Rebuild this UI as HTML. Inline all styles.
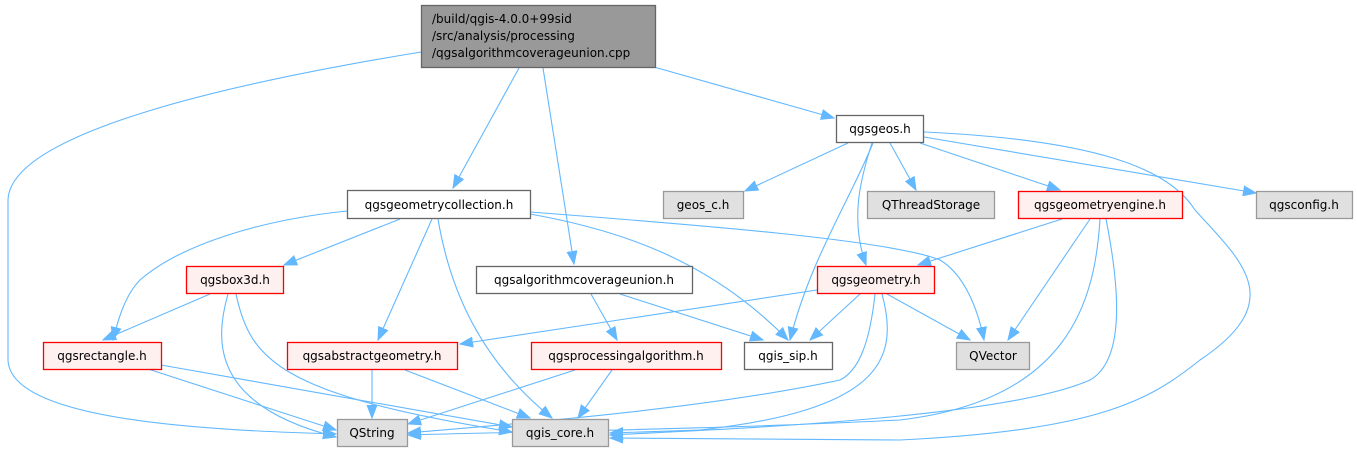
<!DOCTYPE html>
<html><head><meta charset="utf-8"><style>
html,body{margin:0;padding:0;background:#fff;}
svg{display:block;}
text{font-family:"DejaVu Sans","Liberation Sans",sans-serif;font-size:12px;fill:#000;}
</style></head><body>
<svg width="1357" height="451" viewBox="0 0 1357 451" xmlns="http://www.w3.org/2000/svg">
<defs>
<marker id="a" markerUnits="userSpaceOnUse" markerWidth="14" markerHeight="14" viewBox="0 0 14 14" refX="13" refY="7" orient="auto">
<path d="M0,2 L13,7 L0,12 Z" fill="#63b8ff" stroke="#63b8ff"/>
</marker>
</defs>
<g fill="none" stroke="#63b8ff" stroke-width="1.1" marker-end="url(#a)">
<path d="M421,52 C250,80 10,130 8,200 L8,360 C10,420 200,430 336,434"/>
<path d="M519,68 L453,188"/>
<path d="M543,68 L574,264"/>
<path d="M654,67 L834,118"/>
<path d="M347,211 C260,220 180,245 140,280 C125,295 118,320 113,340"/>
<path d="M400,219 L284,265"/>
<path d="M432,219 L378,340"/>
<path d="M438,219 C450,290 480,360 552,418"/>
<path d="M530,214 C620,230 710,260 788,340"/>
<path d="M530,212 C700,225 890,240 940,260 C965,275 978,310 984,340"/>
<path d="M591,294 L617,340"/>
<path d="M620,294 L763,340"/>
<path d="M210,294 L103,340"/>
<path d="M228,294 C215,340 210,405 336,437"/>
<path d="M236,294 C250,360 280,395 512,432"/>
<path d="M148,369 L336,430"/>
<path d="M161,365 L512,427"/>
<path d="M372,370 L372,418"/>
<path d="M405,370 L530,418"/>
<path d="M575,370 L408,424"/>
<path d="M612,370 L578,418"/>
<path d="M848,143 L745,191"/>
<path d="M873,143 C850,200 810,260 790,340"/>
<path d="M872,143 C860,180 850,220 866,265"/>
<path d="M890,143 L916,190"/>
<path d="M920,143 L1060,190"/>
<path d="M924,137 L1256,193"/>
<path d="M924,132 C1100,140 1170,170 1195,210 C1240,260 1290,300 1200,360 C1150,400 1100,430 900,440 L610,438"/>
<path d="M1062,219 L918,265"/>
<path d="M1090,219 L1008,340"/>
<path d="M1100,219 C1095,300 1070,400 900,420 C700,430 500,432 408,435"/>
<path d="M1106,219 C1120,290 1125,360 1090,380 C1000,420 700,430 610,435"/>
<path d="M817,290 L460,344"/>
<path d="M860,294 L810,340"/>
<path d="M887,294 L970,340"/>
<path d="M875,294 C870,340 860,370 840,380 C700,410 500,425 408,433"/>
<path d="M882,294 C900,360 880,410 700,430 L610,433"/>
</g>
<g stroke-width="1.3">
<rect x="421.5" y="5.5" width="234" height="62" fill="#999999" stroke="#666666"/>
<rect x="836.5" y="115.5" width="87" height="27" fill="#fff" stroke="#666666"/>
<rect x="347.5" y="190.5" width="183" height="28" fill="#fff" stroke="#666666"/>
<rect x="663.5" y="191.5" width="80" height="27" fill="#e0e0e0" stroke="#999999"/>
<rect x="867.5" y="191.5" width="127" height="27" fill="#e0e0e0" stroke="#999999"/>
<rect x="1018.5" y="191.5" width="164" height="27" fill="#fff0f0" stroke="#ff0000"/>
<rect x="1256.5" y="191.5" width="96" height="27" fill="#e0e0e0" stroke="#999999"/>
<rect x="186.5" y="266.5" width="97" height="27" fill="#fff0f0" stroke="#ff0000"/>
<rect x="476.5" y="266.5" width="216" height="27" fill="#fff" stroke="#666666"/>
<rect x="817.5" y="266.5" width="117" height="27" fill="#fff0f0" stroke="#ff0000"/>
<rect x="43.5" y="342.5" width="118" height="27" fill="#fff0f0" stroke="#ff0000"/>
<rect x="287.5" y="342.5" width="170" height="27" fill="#fff0f0" stroke="#ff0000"/>
<rect x="531.5" y="342.5" width="190" height="27" fill="#fff0f0" stroke="#ff0000"/>
<rect x="744.5" y="342.5" width="88" height="27" fill="#fff" stroke="#666666"/>
<rect x="956.5" y="342.5" width="73" height="27" fill="#e0e0e0" stroke="#999999"/>
<rect x="337.5" y="419.5" width="70" height="27" fill="#e0e0e0" stroke="#999999"/>
<rect x="512.5" y="419.5" width="96" height="27" fill="#e0e0e0" stroke="#999999"/>
</g>
<g>
<text x="432" y="23">/build/qgis-4.0.0+99sid</text>
<text x="432" y="40">/src/analysis/processing</text>
<text x="432" y="57">/qgsalgorithmcoverageunion.cpp</text>
<g text-anchor="middle">
<text x="880" y="133">qgsgeos.h</text>
<text x="439" y="209">qgsgeometrycollection.h</text>
<text x="703" y="209">geos_c.h</text>
<text x="931" y="209">QThreadStorage</text>
<text x="1100" y="209">qgsgeometryengine.h</text>
<text x="1304" y="209">qgsconfig.h</text>
<text x="235" y="284">qgsbox3d.h</text>
<text x="584" y="284">qgsalgorithmcoverageunion.h</text>
<text x="876" y="284">qgsgeometry.h</text>
<text x="102" y="360">qgsrectangle.h</text>
<text x="372" y="360">qgsabstractgeometry.h</text>
<text x="626" y="360">qgsprocessingalgorithm.h</text>
<text x="788" y="360">qgis_sip.h</text>
<text x="993" y="360">QVector</text>
<text x="372" y="437">QString</text>
<text x="560" y="437">qgis_core.h</text>
</g>
</g>
</svg>
</body></html>
